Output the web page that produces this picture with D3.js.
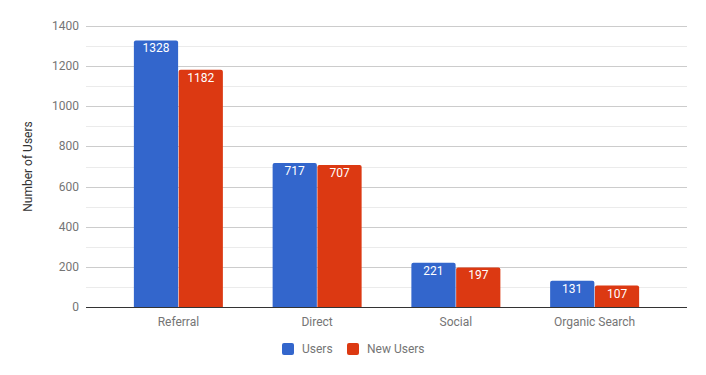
<!DOCTYPE html>
<html>
<head>
<meta charset="utf-8">
<script src="https://cdn.jsdelivr.net/npm/d3@7"></script>
<style>
  body { margin: 0; background: #fff; }
  text { font-family: Roboto, "Noto Sans", sans-serif; }
</style>
</head>
<body>
<div id="chart"></div>
<script>
const categories = ['Referral', 'Direct', 'Social', 'Organic Search']
const seriesNames = ['Users', 'New Users']
const users = [1328, 717, 221, 131]
const newUsers = [1182, 707, 197, 107]
const yTicks = [0, 200, 400, 600, 800, 1000, 1200, 1400]
const colors = ['#3366cc', '#dc3912']

const width = 706, height = 375
const plot = { left: 86, right: 687, top: 26, bottom: 307 }

const svg = d3.select('#chart').append('svg')
  .attr('width', width)
  .attr('height', height)

const y = d3.scaleLinear().domain([0, 1400]).range([plot.bottom, plot.top])
const x = d3.scaleBand().domain(categories).range([109, 664]).paddingInner(0).paddingOuter(0)
const xs = d3.scaleBand().domain(seriesNames).range([0, 89]).paddingInner(0.012)

//minor gridlines every 100
const minor = d3.range(100, 1400, 200)
svg.append('g').selectAll('line').data(minor).join('line')
  .attr('x1', plot.left).attr('x2', plot.right)
  .attr('y1', d => Math.round(y(d)) + 0.5).attr('y2', d => Math.round(y(d)) + 0.5)
  .attr('stroke', '#ebebeb')

svg.append('g').selectAll('line').data(yTicks.slice(1)).join('line')
  .attr('x1', plot.left).attr('x2', plot.right)
  .attr('y1', d => Math.round(y(d)) + 0.5).attr('y2', d => Math.round(y(d)) + 0.5)
  .attr('stroke', '#cccccc')

svg.append('g').selectAll('text').data(yTicks).join('text')
  .attr('x', 79).attr('y', d => y(d))
  .attr('text-anchor', 'end').attr('dominant-baseline', 'central')
  .attr('font-size', 12).attr('fill', '#757575')
  .text(d => d)

svg.append('text')
  .attr('transform', `translate(32,${(plot.top + plot.bottom) / 2}) rotate(-90)`)
  .attr('text-anchor', 'middle')
  .attr('font-size', 12).attr('fill', '#333')
  .text('Number of Users')

const data = categories.flatMap((c, i) => [
  { c, s: seriesNames[0], v: users[i], k: 0 },
  { c, s: seriesNames[1], v: newUsers[i], k: 1 }
])

const groupLeft = d => x(d.c) + (x.bandwidth() - 89) / 2 + xs(d.s)

// bars with rounded top corners
const r = 2
svg.append('g').selectAll('path').data(data).join('path')
  .attr('fill', d => colors[d.k])
  .attr('d', d => {
    const x0 = groupLeft(d), w = xs.bandwidth(), y0 = y(d.v), y1 = y(0)
    return `M${x0},${y1}V${y0 + r}Q${x0},${y0} ${x0 + r},${y0}H${x0 + w - r}Q${x0 + w},${y0} ${x0 + w},${y0 + r}V${y1}Z`
  })

svg.append('g').selectAll('text').data(data).join('text')
  .attr('x', d => groupLeft(d) + xs.bandwidth() / 2)
  .attr('y', d => y(d.v) + 8)
  .attr('text-anchor', 'middle').attr('dominant-baseline', 'central')
  .attr('font-size', 12).attr('fill', '#fff')
  .text(d => d.v)

// baseline
svg.append('line')
  .attr('x1', plot.left).attr('x2', plot.right)
  .attr('y1', plot.bottom + 0.5).attr('y2', plot.bottom + 0.5)
  .attr('stroke', '#333')

svg.append('g').selectAll('text').data(categories).join('text')
  .attr('x', d => x(d) + x.bandwidth() / 2)
  .attr('y', 322)
  .attr('text-anchor', 'middle').attr('dominant-baseline', 'central')
  .attr('font-size', 12).attr('fill', '#757575')
  .text(d => d)

// legend
const legendX = [282, 347]
const legend = svg.append('g').selectAll('g').data(seriesNames).join('g')
  .attr('transform', (d, i) => `translate(${legendX[i]},343)`)
legend.append('rect')
  .attr('width', 12).attr('height', 12).attr('rx', 2)
  .attr('fill', (d, i) => colors[i])
legend.append('text')
  .attr('x', 20).attr('y', 6)
  .attr('dominant-baseline', 'central')
  .attr('font-size', 12).attr('fill', '#757575')
  .text(d => d)
</script>
</body>
</html>
